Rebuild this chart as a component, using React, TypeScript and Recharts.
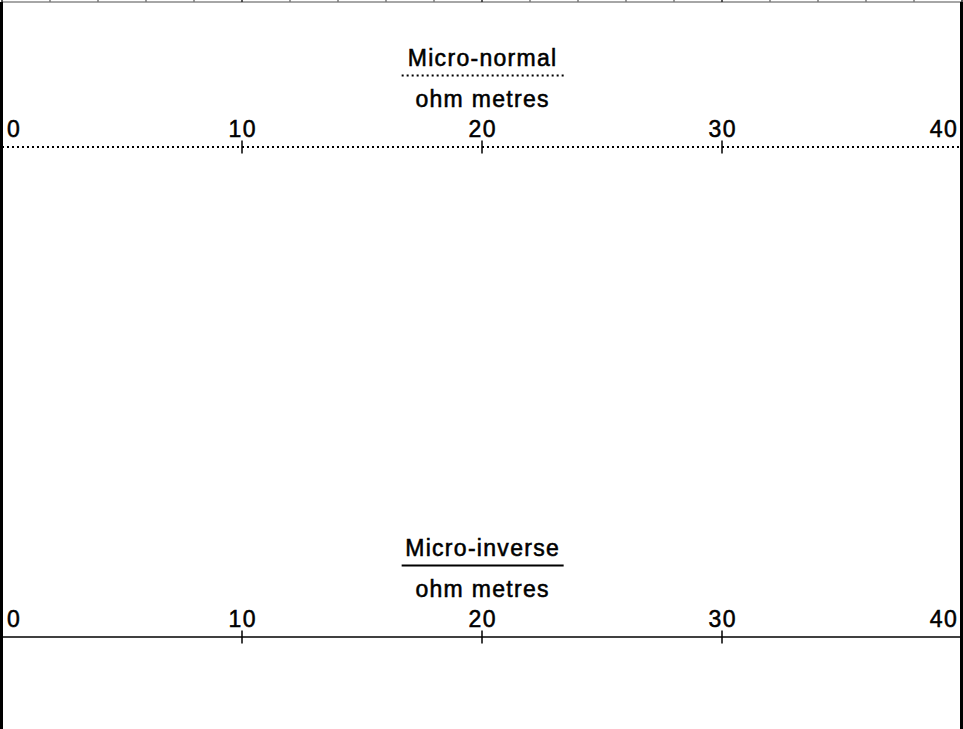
import { ComposedChart, XAxis, YAxis } from 'recharts';

// resistivity scale shared by both curves (ohm metres)
const SCALE_DOMAIN = [0, 40];
const NORMAL_TICKS = [0, 10, 20, 30, 40];
const INVERSE_TICKS = [0, 10, 20, 30, 40];
// edge of the grid from the track above
const GRID_TICKS = [0, 2, 4, 6, 8, 10, 12, 14, 16, 18, 20, 22, 24, 26, 28, 30, 32, 34, 36, 38, 40];

const NORMAL_TITLE = 'Micro-normal';
const INVERSE_TITLE = 'Micro-inverse';
const UNIT = 'ohm metres';

const WIDTH = 963;
const HEIGHT = 729;
const FONT = '"Liberation Sans", Arial, sans-serif';
const FONT_SIZE = 23;
const SPACING = 1.3;

// scale rows so the axes get a domain
const scaleRows = GRID_TICKS.map((ohm) => ({ ohm }));

const textStyle = {
  fontFamily: FONT,
  fontSize: FONT_SIZE,
  letterSpacing: SPACING,
  fill: '#000',
  stroke: '#000',
  strokeWidth: 0.55,
};

function ScaleTick(props: any) {
  const { x, y, payload } = props;
  const v = payload.value;
  const first = v === SCALE_DOMAIN[0];
  const last = v === SCALE_DOMAIN[1];
  const anchor = first ? 'start' : last ? 'end' : 'middle';
  const dx = first ? 5 : last ? -4 : SPACING / 2;
  return (
    <g>
      {!first && !last && (
        <line x1={x} x2={x} y1={y - 6.5} y2={y + 6.5} stroke="#000" strokeWidth={1.5} />
      )}
      <text x={x + dx} y={y - 10} textAnchor={anchor} {...textStyle}>
        {v}
      </text>
    </g>
  );
}

function GridTick(props: any) {
  const { x, y, payload } = props;
  const major = payload.value % 10 === 0;
  return (
    <line x1={x} x2={x} y1={y - 2} y2={y} stroke={major ? '#222' : '#777'} strokeWidth={1.5} />
  );
}

function TrackTitle(props: any) {
  const { viewBox, heading, dotted, side } = props;
  if (!viewBox) return null;
  const { x, y, width, height } = viewBox;
  const axisY = side === 'top' ? y + height : y;
  const cx = x + width / 2 + SPACING / 2;
  return (
    <g>
      <text x={cx} y={axisY - 81} textAnchor="middle" {...textStyle}>
        {heading}
      </text>
      <line
        x1={cx - 81}
        x2={cx + 81}
        y1={axisY - 71.5}
        y2={axisY - 71.5}
        stroke="#000"
        strokeWidth={2}
        strokeDasharray={dotted ? '2 3' : undefined}
      />
      <text x={cx} y={axisY - 40} textAnchor="middle" {...textStyle}>
        {UNIT}
      </text>
    </g>
  );
}

export default function App() {
  return (
    <div style={{ position: 'relative', width: WIDTH, height: HEIGHT, background: '#fff' }}>
      <style>{'body{margin:0}'}</style>
      <ComposedChart
        width={WIDTH}
        height={HEIGHT}
        data={scaleRows}
        margin={{ top: 0, right: 1, bottom: 0, left: 2 }}
      >
        <YAxis hide domain={[0, 1]} />
        <XAxis
          xAxisId="upperGrid"
          dataKey="ohm"
          orientation="top"
          type="number"
          domain={SCALE_DOMAIN}
          allowDataOverflow
          ticks={GRID_TICKS}
          interval={0}
          height={2}
          tickSize={0}
          tickMargin={0}
          tickLine={false}
          tick={<GridTick />}
          axisLine={{ stroke: '#888', strokeWidth: 1.5 }}
        />
        <XAxis
          xAxisId="normal"
          dataKey="ohm"
          orientation="top"
          type="number"
          domain={SCALE_DOMAIN}
          allowDataOverflow
          ticks={NORMAL_TICKS}
          interval={0}
          height={145}
          tickSize={0}
          tickMargin={0}
          tickLine={false}
          tick={<ScaleTick />}
          axisLine={{ stroke: '#000', strokeWidth: 2, strokeDasharray: '2 3' }}
          label={<TrackTitle heading={NORMAL_TITLE} dotted side="top" />}
        />
        <XAxis
          xAxisId="inverse"
          dataKey="ohm"
          orientation="bottom"
          type="number"
          domain={SCALE_DOMAIN}
          allowDataOverflow
          ticks={INVERSE_TICKS}
          interval={0}
          height={92}
          tickSize={0}
          tickMargin={0}
          tickLine={false}
          tick={<ScaleTick />}
          axisLine={{ stroke: '#000', strokeWidth: 1.5 }}
          label={<TrackTitle heading={INVERSE_TITLE} side="bottom" />}
        />
      </ComposedChart>
      <div style={{ position: 'absolute', left: 0, top: 2, width: 3, bottom: 0, background: '#000' }} />
      <div style={{ position: 'absolute', right: 0, top: 2, width: 3, bottom: 0, background: '#000' }} />
    </div>
  );
}
